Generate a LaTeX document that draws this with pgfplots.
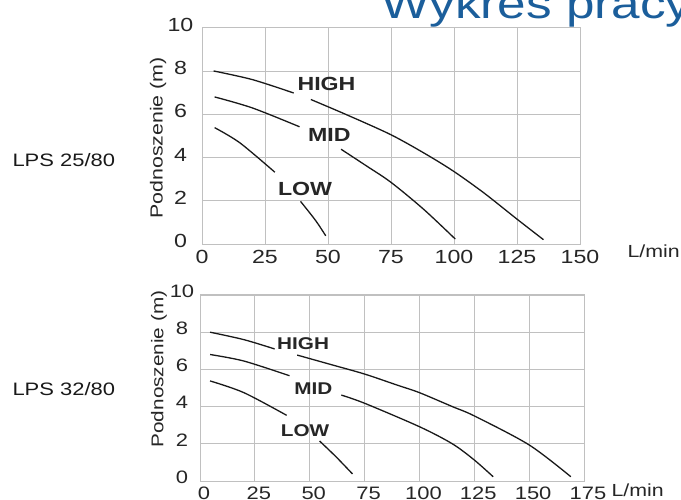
\documentclass[border=0pt]{standalone}
\usepackage{fontspec}
\setmainfont{Liberation Sans}[FakeStretch=1.22]
\usepackage{pgfplots}
\pgfplotsset{compat=1.18}
\definecolor{titleblue}{HTML}{1B5E9B}
\definecolor{gridgray}{RGB}{192,192,192}
\tikzset{lab/.style={font=\bfseries\fontsize{#1}{#1}\selectfont, text=black!85}}
\begin{document}
\begin{tikzpicture}[x=1pt,y=1pt]
\useasboundingbox (0pt,0pt) rectangle (681pt,499pt);
\pgfplotsset{
  pump/.style={
    anchor=south west, scale only axis, clip=false,
    ymin=0, ymax=10, ytick={0,2,...,10},
    grid=major, grid style={gridgray, line width=0.9pt},
    axis line style={gridgray, line width=1pt},
    major tick length=0pt, tick style={draw=none},
    /pgf/number format/assume math mode=true,
    xticklabel style={anchor=center},
    yticklabel style={anchor=center},
  },
  curve/.style={black!90, line width=1.3pt, smooth, no marks},
}
% ---------- top chart ----------
\begin{axis}[pump, at={(202pt,255pt)}, width=378pt, height=216.3pt,
  xmin=0, xmax=150, xtick={0,25,...,150},
  ticklabel style={font=\fontsize{19}{19}\selectfont, text=black!85},
  xticklabel style={yshift=-12.7pt},
  yticklabel style={xshift=-21.5pt, yshift=3pt}]
\addplot[curve] coordinates {(4.6,8.0) (20,7.6) (36.4,6.98)};
\addplot[curve] coordinates {(43.2,6.68) (57.5,5.97) (75,5.05) (88.9,4.15) (100,3.35) (112,2.35) (125,1.15) (135.5,0.2)};
\addplot[curve] coordinates {(5,6.8) (20,6.29) (38.7,5.42)};
\addplot[curve] coordinates {(55.2,4.38) (65,3.63) (75,2.85) (88,1.6) (100.5,0.23)};
\addplot[curve] coordinates {(5,5.38) (15,4.68) (28.9,3.32)};
\addplot[curve] coordinates {(39.1,1.97) (45,1.1) (49.1,0.38)};
\node[lab=19] at (axis cs:49.4,7.39) {HIGH};
\node[lab=19] at (axis cs:50.5,5.04) {MID};
\node[lab=19] at (axis cs:40.9,2.55) {LOW};
\end{axis}
% ---------- bottom chart ----------
\begin{axis}[pump, at={(200pt,18pt)}, width=384pt, height=186pt,
  xmin=0, xmax=175, xtick={0,25,...,175},
  ticklabel style={font=\fontsize{18}{18}\selectfont, text=black!85},
  xticklabel style={yshift=-12.5pt, xshift=4pt},
  yticklabel style={xshift=-18pt, yshift=4pt}]
\addplot[curve] coordinates {(4.6,8.0) (20,7.6) (34,7.1)};
\addplot[curve] coordinates {(44.3,6.77) (60,6.25) (75,5.75) (90,5.15) (100,4.75) (115,4.0) (125,3.5) (150,1.94) (169,0.23)};
\addplot[curve] coordinates {(4.6,6.8) (20,6.45) (40.8,5.66)};
\addplot[curve] coordinates {(64.4,4.62) (75,4.18) (100,2.92) (115,2.0) (125,1.13) (133.6,0.23)};
\addplot[curve] coordinates {(4.6,5.38) (20,4.75) (39.5,3.53)};
\addplot[curve] coordinates {(54.5,2.15) (62,1.3) (69.5,0.38)};
\node[lab=17] at (axis cs:47,7.4) {HIGH};
\node[lab=17] at (axis cs:51.7,4.95) {MID};
\node[lab=17] at (axis cs:47.9,2.69) {LOW};
\end{axis}
% ---------- texts ----------
\node[anchor=base west, text=titleblue, font=\fontsize{42}{42}\selectfont] at (378pt,480.7pt) {Wykres pracy};
\node[rotate=90, font=\fontsize{17.5}{17.5}\selectfont, text=black!85] at (158pt,361pt) {Podnoszenie (m)};
\node[rotate=90, font=\fontsize{17}{17}\selectfont, text=black!85] at (159pt,130pt) {Podnoszenie (m)};
\node[anchor=base west, font=\fontsize{17.5}{17.5}\selectfont, text=black!85] at (624pt,241.7pt) {L/min};
\node[anchor=base west, font=\fontsize{17.5}{17.5}\selectfont, text=black!85] at (608pt,3pt) {L/min};
\node[anchor=west, font=\fontsize{18}{18}\selectfont, text=black!90] at (9pt,339pt) {LPS 25/80};
\node[anchor=west, font=\fontsize{18}{18}\selectfont, text=black!90] at (9pt,110pt) {LPS 32/80};
\end{tikzpicture}
\end{document}
